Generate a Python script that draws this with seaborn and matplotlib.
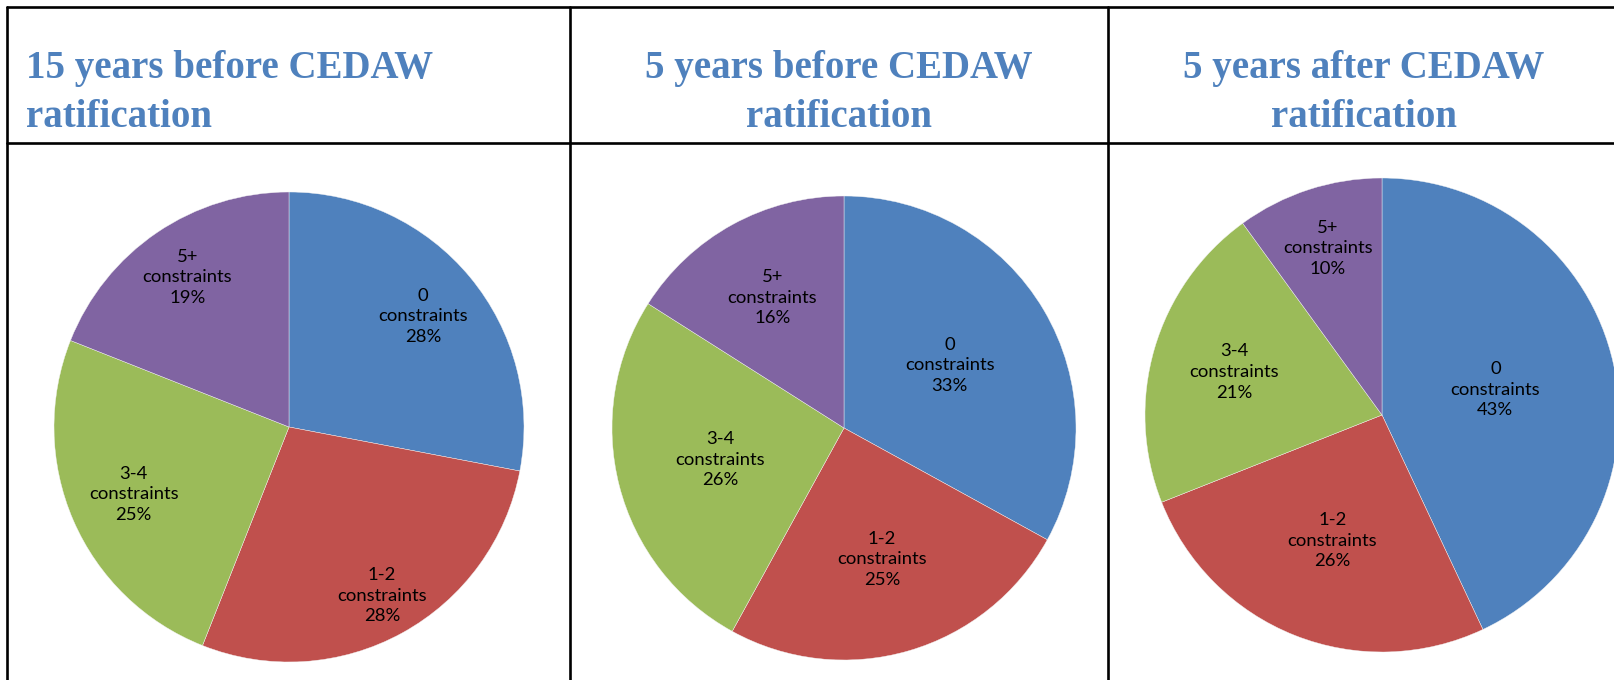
import matplotlib
matplotlib.use('Agg')
import matplotlib.pyplot as plt
import numpy as np
import seaborn as sns
from matplotlib.lines import Line2D

sns.set_style('white')

# Chart data.
categories = ['0\nconstraints', '1-2\nconstraints', '3-4\nconstraints', '5+\nconstraints']
titles = ['15 years before CEDAW\nratification',
          '5 years before CEDAW\nratification',
          '5 years after CEDAW\nratification']
shares_15_before = [28, 28, 25, 19]
shares_5_before = [33, 25, 26, 16]
shares_5_after = [43, 26, 21, 10]

# Styles.
colors = ['#4F81BD', '#C0504D', '#9BBB59', '#8064A2']
title_color = '#4F81BD'
W, H = 1614, 680

fig = plt.figure(figsize=(W / 100, H / 100), dpi=100)

# Table grid lines (pixel coords -> figure fraction).
def hline(y, x0=7, x1=W):
    fig.add_artist(Line2D([x0 / W, x1 / W], [1 - y / H, 1 - y / H], color='black', lw=1.9))

def vline(x, y0=7, y1=H):
    fig.add_artist(Line2D([x / W, x / W], [1 - y0 / H, 1 - y1 / H], color='black', lw=1.9))

hline(7)
hline(143)
for x in [7, 570, 1108]:
    vline(x)

# Titles.
title_specs = [(26, 'left'), (839, 'center'), (1364, 'center')]
for (tx, ha), title in zip(title_specs, titles):
    fig.text(tx / W, 1 - 93 / H, title, ha=ha, va='center', color=title_color,
             fontsize=28, fontweight='bold', family='Liberation Serif', linespacing=1.42)

# Pies: center x, center y, radius in pixels and label radial fractions.
pies = [
    (shares_15_before, 289, 427, 235, [0.74, 0.82, 0.72, 0.77]),
    (shares_5_before, 844, 428, 232, [0.53, 0.59, 0.55, 0.64]),
    (shares_5_after, 1382, 415, 237, [0.49, 0.57, 0.65, 0.74]),
]

for values, cx, cy, r, dists in pies:
    ax = fig.add_axes([(cx - r) / W, 1 - (cy + r) / H, 2 * r / W, 2 * r / H])
    wedges, _ = ax.pie(values, colors=colors, startangle=90, counterclock=False,
                       radius=1, wedgeprops=dict(linewidth=0.3, edgecolor='#f4f4f4'))
    ax.set_xlim(-1, 1)
    ax.set_ylim(-1, 1)
    ax.axis('off')
    for w, cat, v, d in zip(wedges, categories, values, dists):
        ang = np.deg2rad((w.theta1 + w.theta2) / 2)
        ax.text(d * np.cos(ang), d * np.sin(ang), '{}\n{}%'.format(cat, v),
                ha='center', va='center', fontsize=13.3, family='Lato',
                color='black', linespacing=1.35)

plt.savefig('out.png', dpi=100)
